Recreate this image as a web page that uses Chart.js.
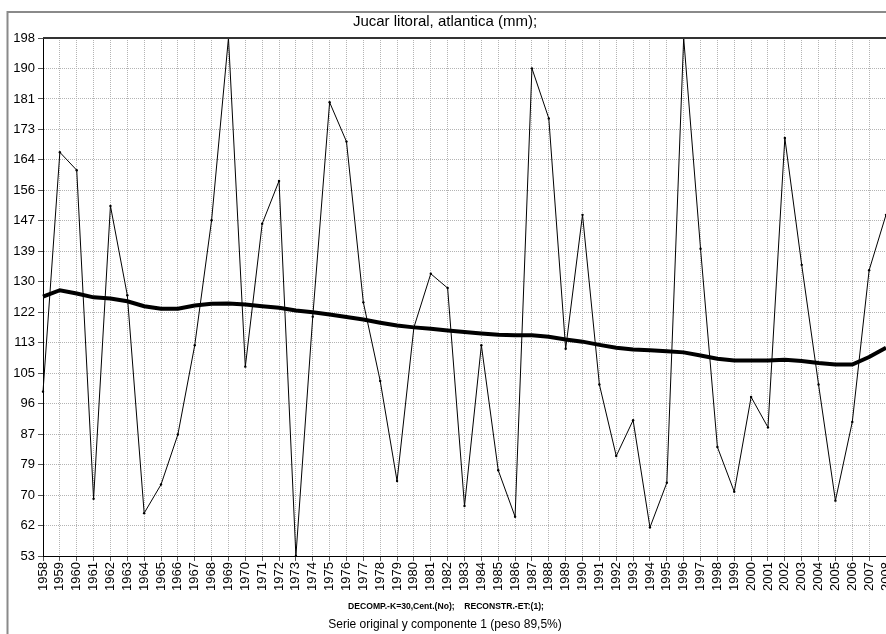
<!DOCTYPE html>
<html>
<head>
<meta charset="utf-8">
<script src="https://cdn.jsdelivr.net/npm/chart.js@4.4.1/dist/chart.umd.min.js"></script>
<style>
  html, body { margin: 0; padding: 0; background: #fff; overflow: hidden; }
  #wrap { width: 886px; height: 634px; overflow: hidden; position: relative; }
  #c { position: absolute; left: 0; top: 0; }
</style>
</head>
<body>
<div id="wrap"><canvas id="c" width="890" height="634"></canvas></div>
<script>
const years = ['1958','1959','1960','1961','1962','1963','1964','1965','1966','1967',
  '1968','1969','1970','1971','1972','1973','1974','1975','1976','1977',
  '1978','1979','1980','1981','1982','1983','1984','1985','1986','1987',
  '1988','1989','1990','1991','1992','1993','1994','1995','1996','1997',
  '1998','1999','2000','2001','2002','2003','2004','2005','2006','2007','2008'];

const original = [99, 166, 161, 69, 151, 126, 65, 73, 87, 112,
  147, 198, 106, 146, 158, 53, 120, 180, 169, 124,
  102, 74, 117, 132, 128, 67, 112, 77, 64, 189.5,
  175.5, 111, 148.5, 101, 81, 91, 61, 73.5, 198, 139,
  83.5, 71, 97.5, 89, 170, 134.5, 101, 68.5, 90.5, 133, 148.5];

const component1 = [125.6, 127.4, 126.5, 125.4, 125.1, 124.3, 122.9, 122.2, 122.2, 123.1,
  123.6, 123.7, 123.4, 122.9, 122.5, 121.7, 121.2, 120.6, 119.9, 119.2,
  118.3, 117.5, 117.0, 116.6, 116.1, 115.7, 115.3, 114.9, 114.8, 114.8,
  114.4, 113.6, 113.0, 112.1, 111.3, 110.8, 110.6, 110.3, 110.0, 109.1,
  108.2, 107.7, 107.7, 107.7, 107.9, 107.6, 107.0, 106.6, 106.6, 108.7, 111.3];

const yTickLabels = ['53','62','70','79','87','96','105','113','122','130',
  '139','147','156','164','173','181','190','198'];

const yMin = 53, yMax = 198;

const titleText = 'Jucar litoral, atlantica (mm);';
const noteText = 'DECOMP.-K=30,Cent.(No);    RECONSTR.-ET:(1);';
const captionText = 'Serie original y componente 1 (peso 89,5%)';

const FONT = '"Liberation Sans", Arial, sans-serif';

const framePlugin = {
  id: 'frame',
  beforeDraw(chart) {
    const ctx = chart.ctx;
    ctx.save();
    ctx.fillStyle = '#fff';
    ctx.fillRect(0, 0, chart.width, chart.height);
    ctx.strokeStyle = '#8a8a8a';
    ctx.lineWidth = 2;
    ctx.beginPath();
    ctx.moveTo(7.5, chart.height);
    ctx.lineTo(7.5, 12);
    ctx.lineTo(chart.width, 12);
    ctx.stroke();
    ctx.restore();
  },
  afterDraw(chart) {
    const ctx = chart.ctx;
    const a = chart.chartArea;
    ctx.save();
    ctx.strokeStyle = '#333';
    ctx.lineWidth = 2;
    ctx.beginPath();
    ctx.moveTo(a.left, a.top);
    ctx.lineTo(a.right, a.top);
    ctx.stroke();
    ctx.fillStyle = '#000';
    ctx.textAlign = 'center';
    ctx.textBaseline = 'middle';
    ctx.font = 'bold 8.6px ' + FONT;
    ctx.fillText(noteText, 446, 607);
    ctx.font = '12px ' + FONT;
    ctx.fillText(captionText, 445, 625);
    ctx.restore();
  }
};

const gridCommon = {
  color: '#b4b4b4',
  lineWidth: 1,
  tickColor: '#555',
  tickLength: 5,
  drawOnChartArea: true
};

new Chart(document.getElementById('c'), {
  type: 'line',
  data: {
    labels: years,
    datasets: [
      {
        label: 'Serie original',
        data: original,
        borderColor: '#000',
        borderWidth: 1,
        pointRadius: 1.2,
        pointBorderWidth: 0,
        pointBackgroundColor: '#000',
        tension: 0,
        fill: false
      },
      {
        label: 'Componente 1',
        data: component1,
        borderColor: '#000',
        borderWidth: 4,
        pointRadius: 0,
        tension: 0,
        fill: false
      }
    ]
  },
  options: {
    responsive: false,
    devicePixelRatio: 1,
    animation: false,
    layout: { padding: { top: 0, left: 0, right: 0, bottom: 0 } },
    plugins: {
      legend: { display: false },
      tooltip: { enabled: false },
      title: {
        display: true,
        text: titleText,
        color: '#000',
        font: { family: FONT, size: 15, weight: 'normal', lineHeight: 1.2 },
        padding: { top: 13, bottom: 7 }
      }
    },
    scales: {
      x: {
        type: 'category',
        offset: false,
        grid: Object.assign({}, gridCommon),
        border: { display: true, color: '#000', width: 1, dash: [1, 1] },
        ticks: {
          autoSkip: false,
          maxRotation: 90,
          minRotation: 90,
          padding: 1,
          color: '#000',
          font: { family: FONT, size: 13 }
        },
        afterFit(scale) {
          scale.paddingLeft = 0;
          scale.paddingRight = 0;
          scale.height = 78;
        }
      },
      y: {
        min: yMin,
        max: yMax,
        grid: Object.assign({}, gridCommon),
        border: { display: true, color: '#000', width: 1, dash: [1, 1] },
        afterBuildTicks(scale) {
          const n = yTickLabels.length - 1;
          scale.ticks = yTickLabels.map((_, i) => ({ value: yMin + (yMax - yMin) * i / n }));
        },
        ticks: {
          padding: 3,
          color: '#000',
          font: { family: FONT, size: 13 },
          callback: (v, i) => yTickLabels[i]
        },
        afterFit(scale) {
          scale.width = 43;
        }
      }
    }
  },
  plugins: [framePlugin]
});
</script>
</body>
</html>
